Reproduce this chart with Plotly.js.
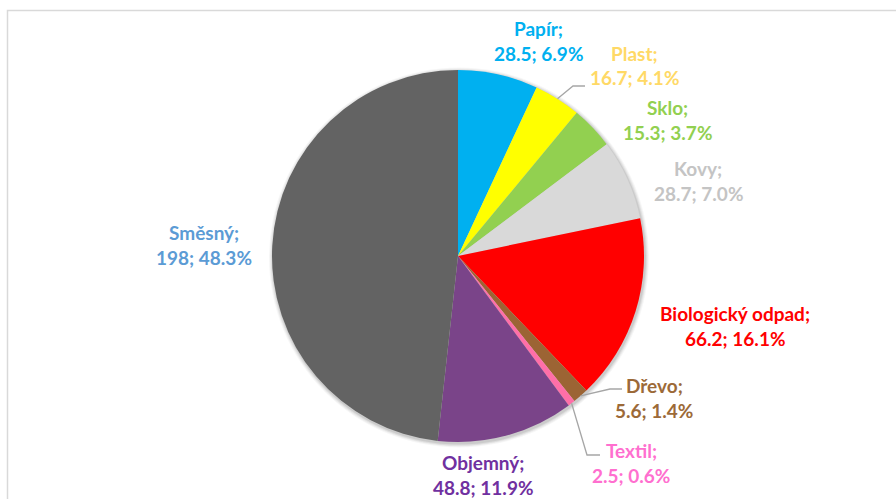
<!DOCTYPE html>
<html><head><meta charset="utf-8">
<script src="https://cdn.plot.ly/plotly-3.0.1.min.js"></script>
<style>html,body{margin:0;padding:0;background:#fff}#chart{width:896px;height:499px}</style>
</head><body><div id="chart"></div>
<script>
// data
const categories = ["Papír","Plast","Sklo","Kovy","Biologický odpad","Dřevo","Textil","Objemný","Směsný"];
const values = [28.5, 16.7, 15.3, 28.7, 66.2, 5.6, 2.5, 48.8, 198];
const percentLabels = ["6.9%","4.1%","3.7%","7.0%","16.1%","1.4%","0.6%","11.9%","48.3%"];
const sliceColors = ["#00B0F0","#FFFF00","#92D050","#D9D9D9","#FF0000","#9C6434","#FF6FA8","#7A4489","#636363"];
const labelColors = ["#00B0F0","#FFD966","#92D050","#C4C4C4","#FF0000","#9C6A38","#FF6FCF","#7030A0","#5B9BD5"];
// label layout (pixel centres of the two text lines)
const labelPos = [[538,28],[634,53],[667,107],[698,168],[735,313],[654,385],[631,450],[483,462],[204,232]];
const lineGap = 25;
const leaders = {1:[[573,86],[585,86]], 5:[[610,389],[622,389]], 6:[[587,455],[600,455]]};

const W = 896, H = 499;
const cx = 458, cy = 256, R = 186;
const px = x => x / W, py = y => 1 - y / H;

const fmt = v => (Number.isInteger(v) ? String(v) : v.toFixed(1));
const total = values.reduce((a,b)=>a+b,0);

const annotations = [];
const shapes = [];
// soft shadow
[[4,0.035],[3,0.045],[2,0.06],[1,0.08]].forEach(([d,a])=>{
  shapes.push({type:'circle',xref:'paper',yref:'paper',x0:px(cx-R-d+1),x1:px(cx+R+d+1),y0:py(cy+R+d+1.5),y1:py(cy-R-d+1.5),
    fillcolor:'rgba(0,0,0,'+a+')',line:{width:0},layer:'below'});
});
categories.forEach((c,i)=>{
  const [x,y] = labelPos[i];
  const font = {family:"Lato, 'Open Sans', sans-serif", size:19, color:labelColors[i], weight:700};
  annotations.push({xref:'paper',yref:'paper',x:px(x),y:py(y),text:'<b>'+c+';</b>',showarrow:false,xanchor:'center',yanchor:'middle',font});
  annotations.push({xref:'paper',yref:'paper',x:px(x),y:py(y+lineGap),text:'<b>'+fmt(values[i])+'; '+percentLabels[i]+'</b>',showarrow:false,xanchor:'center',yanchor:'middle',font});
});
// leader lines, starting at slice mid-angle on pie edge
let cum = 0;
const mids = values.map(v=>{const m = (cum + v/2)/total*2*Math.PI; cum += v; return m;});
Object.keys(leaders).forEach(k=>{
  const i = +k, a = mids[i];
  const sx = cx + R*Math.sin(a), sy = cy - R*Math.cos(a);
  const pts = [[sx,sy]].concat(leaders[k]);
  const d = pts.map((p,j)=>(j?'L':'M')+px(p[0])+','+py(p[1])).join(' ');
  shapes.push({type:'path',xref:'paper',yref:'paper',path:d,line:{color:'#A6A6A6',width:1.3}});
});
// chart border
shapes.push({type:'rect',xref:'paper',yref:'paper',x0:px(7.5),x1:px(905),y0:py(10.5),y1:py(510),line:{color:'#D9D9D9',width:1.5},layer:'below'});

const trace = {
  type:'pie', values:values, labels:categories, sort:false, direction:'clockwise', rotation:0,
  marker:{colors:sliceColors, line:{width:0}}, textinfo:'none', hoverinfo:'label+value+percent',
  domain:{x:[px(cx-R),px(cx+R)], y:[py(cy+R),py(cy-R)]}, showlegend:false
};
Plotly.newPlot('chart',[trace],{width:W,height:H,margin:{l:0,r:0,t:0,b:0},paper_bgcolor:'#fff',annotations,shapes,showlegend:false},{displayModeBar:false,staticPlot:true});
</script></body></html>
